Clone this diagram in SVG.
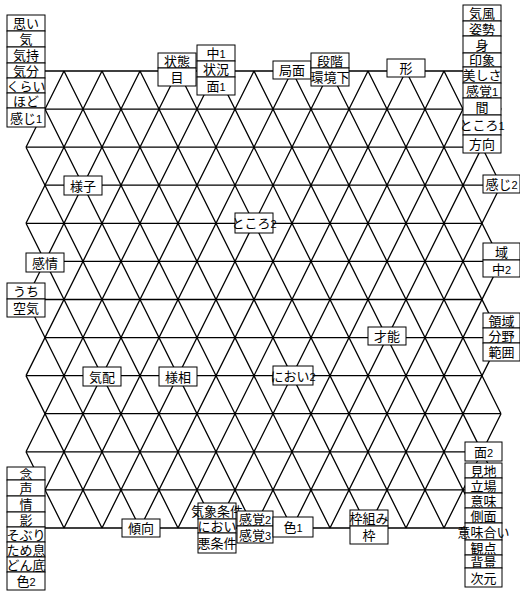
<svg xmlns="http://www.w3.org/2000/svg" width="520" height="592" viewBox="0 0 520 592">
<style>
.lat{fill:none;stroke:#000;stroke-width:1.3}
.b rect{fill:#fff;stroke:#000;stroke-width:1}
.b text{font-family:"Noto Sans CJK JP","Noto Sans CJK SC",sans-serif;font-size:13px;text-anchor:middle;fill:#000}
.d{font-family:"Liberation Sans",sans-serif;font-size:11px}
</style>
<rect width="520" height="592" fill="#fff"/>
<g id="connectors" class="lat">
<path d="M26 71H482M45 109.1H501M26 147.2H482M45 185.2H501M26 223.3H482M45 261.4H501M26 299.5H482M45 337.6H501M26 375.6H482M45 413.7H501M26 451.8H482M45 489.9H501M26 528H482"/>
<path d="M26 71L254 528M64 71L292 528M102 71L330 528M140 71L368 528M178 71L406 528M216 71L444 528M254 71L482 528M292 71L501 489.9M330 71L501 413.7M368 71L501 337.6M406 71L501 261.4M444 71L501 185.2M482 71L501 109.1M26 147.2L216 528M26 223.3L178 528M26 299.5L140 528M26 375.6L102 528M26 451.8L64 528"/>
<path d="M64 71L26 147.2M102 71L26 223.3M140 71L26 299.5M178 71L26 375.6M216 71L26 451.8M254 71L26 528M292 71L64 528M330 71L102 528M368 71L140 528M406 71L178 528M444 71L216 528M482 71L254 528M501 109.1L292 528M501 185.2L330 528M501 261.4L368 528M501 337.6L406 528M501 413.7L444 528M501 489.9L482 528"/>
</g>
<g id="left-top" class="b">
<g id="n-omoi"><rect x="7" y="15" width="38" height="16"/><text x="26" y="28">思い</text></g>
<g id="n-ki"><rect x="7" y="31" width="38" height="16"/><text x="26" y="44">気</text></g>
<g id="n-kimochi"><rect x="7" y="47" width="38" height="16"/><text x="26" y="60">気持</text></g>
<g id="n-kibun"><rect x="7" y="63" width="38" height="15"/><text x="26" y="75.5">気分</text></g>
<g id="n-kurai"><rect x="7" y="78" width="38" height="15"/><text x="26" y="90.5">くらい</text></g>
<g id="n-hodo"><rect x="7" y="93" width="38" height="15"/><text x="26" y="105.5">ほど</text></g>
<g id="n-kanji1"><rect x="7" y="108" width="38" height="19"/><text x="26" y="122.5">感じ<tspan class="d">1</tspan></text></g>
</g>
<g id="top" class="b">
<g id="n-joutai"><rect x="158" y="53" width="38" height="15"/><text x="177" y="65.5">状態</text></g>
<g id="n-me"><rect x="158" y="68" width="38" height="18"/><text x="177" y="82">目</text></g>
<g id="n-naka1"><rect x="197" y="45" width="38" height="16"/><text x="216" y="58">中<tspan class="d">1</tspan></text></g>
<g id="n-joukyou"><rect x="197" y="61" width="38" height="16"/><text x="216" y="74">状況</text></g>
<g id="n-men1"><rect x="197" y="77" width="38" height="18"/><text x="216" y="91">面<tspan class="d">1</tspan></text></g>
<g id="n-kyokumen"><rect x="273" y="61" width="38" height="18"/><text x="292" y="75">局面</text></g>
<g id="n-dankai"><rect x="311" y="53" width="38" height="15"/><text x="330" y="65.5">段階</text></g>
<g id="n-kankyouka"><rect x="311" y="68" width="38" height="18"/><text x="330" y="82">環境下</text></g>
<g id="n-katachi"><rect x="387" y="59" width="38" height="18"/><text x="406" y="73">形</text></g>
</g>
<g id="right-top" class="b">
<g id="n-kifuu"><rect x="463" y="5" width="38" height="16"/><text x="482" y="18">気風</text></g>
<g id="n-shisei"><rect x="463" y="21" width="38" height="15"/><text x="482" y="33.5">姿勢</text></g>
<g id="n-mi"><rect x="463" y="36" width="38" height="17"/><text x="482" y="49.5">身</text></g>
<g id="n-inshou"><rect x="463" y="53" width="38" height="14"/><text x="482" y="65">印象</text></g>
<g id="n-utsukushisa"><rect x="463" y="67" width="38" height="16"/><text x="482" y="80">美しさ</text></g>
<g id="n-kankaku1"><rect x="463" y="83" width="38" height="15"/><text x="482" y="95.5">感覚<tspan class="d">1</tspan></text></g>
<g id="n-ma"><rect x="463" y="98" width="38" height="17"/><text x="482" y="111.5">間</text></g>
<g id="n-tokoro1"><rect x="463" y="115" width="38" height="20"/><text x="482" y="130">ところ<tspan class="d">1</tspan></text></g>
<g id="n-houkou"><rect x="463" y="135" width="38" height="18"/><text x="482" y="149">方向</text></g>
</g>
<g id="middle" class="b">
<g id="n-kanji2"><rect x="483" y="175" width="37" height="18"/><text x="501.5" y="189">感じ<tspan class="d">2</tspan></text></g>
<g id="n-yousu"><rect x="64" y="176" width="38" height="19"/><text x="83" y="190.5">様子</text></g>
<g id="n-tokoro2"><rect x="235" y="213" width="38" height="20"/><text x="254" y="228">ところ<tspan class="d">2</tspan></text></g>
<g id="n-iki"><rect x="483" y="243" width="37" height="17"/><text x="501.5" y="256.5">域</text></g>
<g id="n-naka2"><rect x="483" y="260" width="37" height="17"/><text x="501.5" y="273.5">中<tspan class="d">2</tspan></text></g>
<g id="n-kanjou"><rect x="26" y="253" width="38" height="19"/><text x="45" y="267.5">感情</text></g>
<g id="n-uchi"><rect x="7" y="283" width="38" height="16"/><text x="26" y="296">うち</text></g>
<g id="n-kuuki"><rect x="7" y="299" width="38" height="18"/><text x="26" y="313">空気</text></g>
<g id="n-sainou"><rect x="368" y="327" width="38" height="18"/><text x="387" y="341">才能</text></g>
<g id="n-ryouiki"><rect x="483" y="313" width="37" height="15"/><text x="501.5" y="325.5">領域</text></g>
<g id="n-bunya"><rect x="483" y="328" width="37" height="15"/><text x="501.5" y="340.5">分野</text></g>
<g id="n-han-i"><rect x="483" y="343" width="37" height="18"/><text x="501.5" y="357">範囲</text></g>
<g id="n-kehai"><rect x="83" y="367" width="38" height="19"/><text x="102" y="381.5">気配</text></g>
<g id="n-yousou"><rect x="159" y="367" width="38" height="19"/><text x="178" y="381.5">様相</text></g>
<g id="n-nioi2"><rect x="273" y="366" width="40" height="19"/><text x="293" y="380.5">におい<tspan class="d">2</tspan></text></g>
</g>
<g id="right-bottom" class="b">
<g id="n-men2"><rect x="465" y="442" width="37" height="19"/><text x="483.5" y="456.5">面<tspan class="d">2</tspan></text></g>
<g id="n-kenchi"><rect x="465" y="463" width="37" height="15"/><text x="483.5" y="475.5">見地</text></g>
<g id="n-tachiba"><rect x="465" y="478" width="37" height="15"/><text x="483.5" y="490.5">立場</text></g>
<g id="n-imi"><rect x="465" y="493" width="37" height="15"/><text x="483.5" y="505.5">意味</text></g>
<g id="n-sokumen"><rect x="465" y="508" width="37" height="15"/><text x="483.5" y="520.5">側面</text></g>
<g id="n-imiai"><rect x="465" y="523" width="37" height="17"/><text x="483.5" y="536.5">意味合い</text></g>
<g id="n-kanten"><rect x="465" y="540" width="37" height="15"/><text x="483.5" y="552.5">観点</text></g>
<g id="n-haikei"><rect x="465" y="555" width="37" height="13"/><text x="483.5" y="566.5">背景</text></g>
<g id="n-jigen"><rect x="465" y="568" width="37" height="19"/><text x="483.5" y="582.5">次元</text></g>
</g>
<g id="left-bottom" class="b">
<g id="n-nen"><rect x="7" y="467" width="38" height="13"/><text x="26" y="478.5">念</text></g>
<g id="n-koe"><rect x="7" y="480" width="38" height="16"/><text x="26" y="493">声</text></g>
<g id="n-jou"><rect x="7" y="496" width="38" height="16"/><text x="26" y="509">情</text></g>
<g id="n-kage"><rect x="7" y="512" width="38" height="15"/><text x="26" y="524.5">影</text></g>
<g id="n-soburi"><rect x="7" y="527" width="38" height="15"/><text x="26" y="539.5">そぶり</text></g>
<g id="n-tameiki"><rect x="7" y="542" width="38" height="15"/><text x="26" y="554.5">ため息</text></g>
<g id="n-donzoko"><rect x="7" y="557" width="38" height="15"/><text x="26" y="569.5">どん底</text></g>
<g id="n-iro2"><rect x="7" y="572" width="38" height="18"/><text x="26" y="586">色<tspan class="d">2</tspan></text></g>
</g>
<g id="bottom" class="b">
<g id="n-keikou"><rect x="122" y="519" width="38" height="18"/><text x="141" y="533">傾向</text></g>
<g id="n-kishoujouken"><rect x="198" y="503" width="38" height="16"/><text x="217" y="516">気象条件</text></g>
<g id="n-nioi"><rect x="198" y="519" width="38" height="14"/><text x="217" y="531">におい</text></g>
<g id="n-akujouken"><rect x="198" y="533" width="38" height="20"/><text x="217" y="548">悪条件</text></g>
<g id="n-kankaku2"><rect x="237" y="511" width="36" height="15"/><text x="255" y="523.5">感覚<tspan class="d">2</tspan></text></g>
<g id="n-kankaku3"><rect x="237" y="526" width="36" height="17"/><text x="255" y="539.5">感覚<tspan class="d">3</tspan></text></g>
<g id="n-iro1"><rect x="273" y="517" width="40" height="20"/><text x="293" y="532">色<tspan class="d">1</tspan></text></g>
<g id="n-wakugumi"><rect x="350" y="510" width="38" height="16"/><text x="369" y="523">枠組み</text></g>
<g id="n-waku"><rect x="350" y="526" width="38" height="18"/><text x="369" y="540">枠</text></g>
</g>
</svg>
